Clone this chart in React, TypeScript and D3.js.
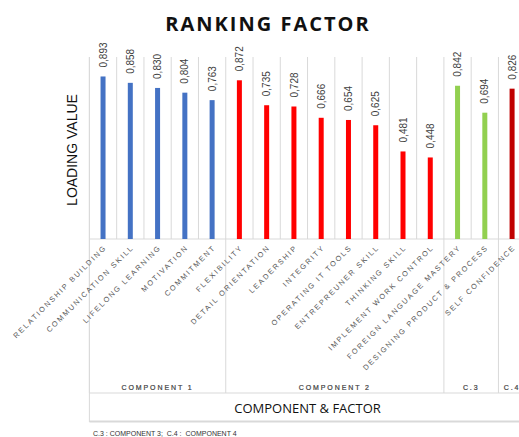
import React from "react";
import * as d3 from "d3";

const categories = [
  "RELATIONSHIP BUILDING",
  "COMMUNICATION SKILL",
  "LIFELONG LEARNING",
  "MOTIVATION",
  "COMMITMENT",
  "FLEXIBILITY",
  "DETAIL ORIENTATION",
  "LEADERSHIP",
  "INTEGRITY",
  "OPERATING IT TOOLS",
  "ENTREPREUNER SKILL",
  "THINKING SKILL",
  "IMPLEMENT WORK CONTROL",
  "FOREIGN LANGUAGE MASTERY",
  "DESIGNING PRODUCT & PROCESS",
  "SELF CONFIDENCE",
];
const values = [0.893, 0.858, 0.83, 0.804, 0.763, 0.872, 0.735, 0.728, 0.666, 0.654, 0.625, 0.481, 0.448, 0.842, 0.694, 0.826];
const componentOf = [1, 1, 1, 1, 1, 2, 2, 2, 2, 2, 2, 2, 2, 3, 3, 4];
const components = [1, 2, 3, 4];
const componentLabels = ["COMPONENT 1", "COMPONENT 2", "C.3", "C.4"];
const componentColors = ["#4472C4", "#FF0000", "#92D050", "#C00000"];

const W = 519;
const H = 437;
const left = 89.4;
const step = 27.27;
const top = 57;
const base = 239;

export default function App() {
  const x = d3
    .scaleBand<string>()
    .domain(categories)
    .range([left, left + step * categories.length])
    .paddingInner(0)
    .paddingOuter(0);
  const y = d3.scaleLinear().domain([0, 1]).range([base, top]);
  const barW = 5;
  const grid = "#d9d9d9";
  const fmt = (v: number) => d3.format(".3f")(v).replace(".", ",");

  const groups = components.map((c, i) => {
    const idx = componentOf.map((cc, j) => (cc === c ? j : -1)).filter((j) => j >= 0);
    const x0 = x(categories[idx[0]])!;
    const x1 = x(categories[idx[idx.length - 1]])! + x.bandwidth();
    return { c, x0, x1, label: componentLabels[i] };
  });
  const right = left + step * categories.length;

  return (
    <svg width={W} height={H} style={{ position: "absolute", left: 0, top: 0, background: "#fff" }}>
      <text
        x={268}
        y={31}
        textAnchor="middle"
        fontFamily="'Open Sans', sans-serif"
        fontWeight={700}
        fontSize={20}
        letterSpacing={2}
        fill="#111"
      >
        RANKING FACTOR
      </text>
      {categories.map((c, i) => (
        <line key={"g" + i} x1={x(c)!} x2={x(c)!} y1={top} y2={base} stroke={grid} strokeWidth={1} />
      ))}
      <line x1={left} x2={right} y1={base} y2={base} stroke={grid} strokeWidth={1} />
      {groups.map((g, i) => (
        <line key={"s" + i} x1={g.x0} x2={g.x0} y1={base} y2={393} stroke={grid} strokeWidth={1} />
      ))}
      <line x1={left} x2={left} y1={top} y2={422} stroke={grid} strokeWidth={1} />
      <line x1={left} x2={right} y1={393} y2={393} stroke={grid} strokeWidth={1} />
      <line x1={left} x2={right} y1={421.5} y2={421.5} stroke={grid} strokeWidth={2} />
      {categories.map((c, i) => {
        const cx = x(c)! + x.bandwidth() / 2;
        return (
          <g key={"b" + i}>
            <rect
              x={cx - barW / 2}
              y={y(values[i])}
              width={barW}
              height={base - y(values[i])}
              fill={componentColors[componentOf[i] - 1]}
            />
            <text
              transform={`translate(${cx + 3.6},${y(values[i]) - 9}) rotate(-90)`}
              fontFamily="'Liberation Sans', Arial, sans-serif"
              fontSize={10}
              fill="#404040"
            >
              {fmt(values[i])}
            </text>
            <text
              transform={`translate(${cx + 4},${base + 9}) rotate(-45)`}
              textAnchor="end"
              fontFamily="'Liberation Sans', Arial, sans-serif"
              fontSize={7.4}
              letterSpacing={1.8}
              fill="#595959"
            >
              {c}
            </text>
          </g>
        );
      })}
      {groups.map((g, i) => (
        <text
          key={"l" + i}
          x={(g.x0 + g.x1) / 2}
          y={390}
          textAnchor="middle"
          fontFamily="'Liberation Sans', Arial, sans-serif"
          fontSize={7}
          letterSpacing={1.9}
          fill="#404040"
          stroke="#404040"
          strokeWidth={0.2}
        >
          {g.label}
        </text>
      ))}
      <text
        x={(left + right) / 2}
        y={413}
        textAnchor="middle"
        fontFamily="'Open Sans', sans-serif"
        fontSize={13}
        fill="#111"
      >
        COMPONENT &amp; FACTOR
      </text>
      <text
        transform={`translate(77,150) rotate(-90)`}
        textAnchor="middle"
        fontFamily="'Liberation Sans', Arial, sans-serif"
        fontSize={14}
        fill="#111"
      >
        LOADING VALUE
      </text>
      <text
        x={93}
        y={436}
        fontFamily="'Liberation Sans', Arial, sans-serif"
        fontSize={7}
        fill="#333"
        style={{ whiteSpace: "pre" }}
      >
        {"C.3 : COMPONENT 3;  C.4 :  COMPONENT 4"}
      </text>
    </svg>
  );
}
